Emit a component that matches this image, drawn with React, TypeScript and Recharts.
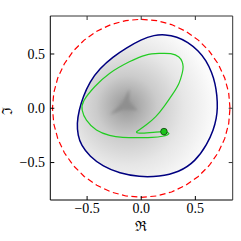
import React from "react";
import { ScatterChart, Scatter, XAxis, YAxis } from "recharts";

// closed boundary curve (navy)
const boundary = [
  { x: 0.705, y: 0.0 }, { x: 0.7, y: 0.12 }, { x: 0.683, y: 0.229 }, { x: 0.652, y: 0.33 },
  { x: 0.6, y: 0.44 }, { x: 0.53, y: 0.53 }, { x: 0.43, y: 0.61 }, { x: 0.33, y: 0.66 },
  { x: 0.22, y: 0.68 }, { x: 0.12, y: 0.675 }, { x: 0.0, y: 0.635 }, { x: -0.14, y: 0.555 },
  { x: -0.262, y: 0.474 }, { x: -0.384, y: 0.367 }, { x: -0.476, y: 0.244 }, { x: -0.537, y: 0.106 },
  { x: -0.574, y: -0.016 }, { x: -0.595, y: -0.14 }, { x: -0.585, y: -0.25 }, { x: -0.555, y: -0.34 },
  { x: -0.476, y: -0.444 }, { x: -0.354, y: -0.536 }, { x: -0.201, y: -0.6 }, { x: -0.018, y: -0.633 },
  { x: 0.165, y: -0.63 }, { x: 0.348, y: -0.59 }, { x: 0.5, y: -0.49 }, { x: 0.61, y: -0.33 },
  { x: 0.668, y: -0.199 }, { x: 0.695, y: -0.09 },
];

// darker three-cusped core of the density
const core = [
  { x: -0.11, y: 0.18 }, { x: -0.175, y: 0.05 }, { x: -0.29, y: -0.06 },
  { x: -0.155, y: -0.01 }, { x: -0.03, y: -0.02 }, { x: -0.11, y: 0.06 },
];

// dashed circle, radius 0.82
const circle = [
  { x: 0.82, y: 0 }, { x: 0.808, y: 0.142 }, { x: 0.771, y: 0.28 }, { x: 0.71, y: 0.41 },
  { x: 0.628, y: 0.527 }, { x: 0.527, y: 0.628 }, { x: 0.41, y: 0.71 }, { x: 0.28, y: 0.771 },
  { x: 0.142, y: 0.808 }, { x: 0, y: 0.82 }, { x: -0.142, y: 0.808 }, { x: -0.28, y: 0.771 },
  { x: -0.41, y: 0.71 }, { x: -0.527, y: 0.628 }, { x: -0.628, y: 0.527 }, { x: -0.71, y: 0.41 },
  { x: -0.771, y: 0.28 }, { x: -0.808, y: 0.142 }, { x: -0.82, y: 0 }, { x: -0.808, y: -0.142 },
  { x: -0.771, y: -0.28 }, { x: -0.71, y: -0.41 }, { x: -0.628, y: -0.527 }, { x: -0.527, y: -0.628 },
  { x: -0.41, y: -0.71 }, { x: -0.28, y: -0.771 }, { x: -0.142, y: -0.808 }, { x: 0, y: -0.82 },
  { x: 0.142, y: -0.808 }, { x: 0.28, y: -0.771 }, { x: 0.41, y: -0.71 }, { x: 0.527, y: -0.628 },
  { x: 0.628, y: -0.527 }, { x: 0.71, y: -0.41 }, { x: 0.771, y: -0.28 }, { x: 0.808, y: -0.142 },
  { x: 0.82, y: 0 },
];

// green trajectory
const orbit = [
  { x: 0.21, y: -0.215 }, { x: 0.256, y: -0.234 }, { x: 0.195, y: -0.258 }, { x: 0.1, y: -0.268 },
  { x: 0.012, y: -0.27 }, { x: -0.171, y: -0.268 }, { x: -0.293, y: -0.25 }, { x: -0.414, y: -0.2 },
  { x: -0.506, y: -0.11 }, { x: -0.545, y: -0.02 }, { x: -0.53, y: 0.07 }, { x: -0.43, y: 0.198 },
  { x: -0.293, y: 0.321 }, { x: -0.11, y: 0.428 }, { x: 0.043, y: 0.49 }, { x: 0.165, y: 0.505 },
  { x: 0.272, y: 0.503 }, { x: 0.348, y: 0.473 }, { x: 0.378, y: 0.428 }, { x: 0.387, y: 0.382 },
  { x: 0.378, y: 0.321 }, { x: 0.348, y: 0.229 }, { x: 0.29, y: 0.13 }, { x: 0.21, y: 0.015 },
  { x: 0.134, y: -0.077 }, { x: 0.05, y: -0.15 }, { x: -0.02, y: -0.2 }, { x: -0.043, y: -0.222 },
  { x: 0.012, y: -0.229 }, { x: 0.134, y: -0.22 }, { x: 0.21, y: -0.215 },
];

const start = [{ x: 0.21, y: -0.215 }];

const ticks = [-0.5, 0, 0.5];
const xDomain = [-0.84, 0.845];
const yDomain = [-0.845, 0.85];

const fmt = (v: number) => (v < 0 ? "\u2212" : "") + Math.abs(v).toFixed(1);
const font = "'Liberation Serif', 'DejaVu Serif', serif";

const BottomTick = (p: any) => (
  <g>
    <line x1={p.x} y1={p.y - 3} x2={p.x} y2={p.y - 7} stroke="#000" />
    <text x={p.x} y={p.y + 10} textAnchor="middle" fontSize={14} fontFamily={font} fill="#000">
      {fmt(p.payload.value)}
    </text>
  </g>
);

const LeftTick = (p: any) => (
  <g>
    <line x1={p.x + 5.3} y1={p.y} x2={p.x + 9.3} y2={p.y} stroke="#000" />
    <text x={p.x} y={p.y + 4.6} textAnchor="end" fontSize={14} fontFamily={font} fill="#000">
      {fmt(p.payload.value)}
    </text>
  </g>
);

const TopTick = (p: any) => <line x1={p.x} y1={p.y} x2={p.x} y2={p.y + 4} stroke="#333" />;
const RightTick = (p: any) => <line x1={p.x - 4} y1={p.y} x2={p.x} y2={p.y} stroke="#333" />;

const XLabel = (p: any) => {
  const vb = p.viewBox;
  return (
    <text x={vb.x + vb.width / 2 - 0.5} y={vb.y + 31} textAnchor="middle" fontSize={14} fontFamily="'DejaVu Serif', serif" fill="#000">
      {"\u211C"}
    </text>
  );
};

const YLabel = (p: any) => {
  const vb = p.viewBox;
  const cx = 7;
  const cy = vb.y + vb.height / 2 + 3;
  return (
    <text x={cx} y={cy} transform={`rotate(-90 ${cx} ${cy})`} textAnchor="middle" dominantBaseline="central" fontSize={14} fontFamily="'DejaVu Serif', serif" fill="#000">
      {"\u2111"}
    </text>
  );
};

const none = () => <g />;

export default function App() {
  return (
    <div style={{ position: "absolute", left: 0, top: 0, background: "#fff" }}>
      <ScatterChart width={241} height={241} margin={{ top: 0, right: 0, bottom: 0, left: 0 }}>
        <defs>
          <radialGradient id="dens" cx="0.36" cy="0.52" r="0.62" fx="0.35" fy="0.5">
            <stop offset="0%" stopColor="#949494" />
            <stop offset="12%" stopColor="#a8a8a8" />
            <stop offset="35%" stopColor="#cbcbcb" />
            <stop offset="65%" stopColor="#e6e6e6" />
            <stop offset="100%" stopColor="#fbfbfb" />
          </radialGradient>
          <filter id="soft" x="-50%" y="-50%" width="200%" height="200%">
            <feGaussianBlur stdDeviation="1.8" />
          </filter>
        </defs>
        <XAxis
          xAxisId={0}
          type="number"
          dataKey="x"
          domain={xDomain}
          ticks={ticks}
          allowDataOverflow
          height={41}
          tickSize={0}
          tickMargin={3}
          stroke="#000"
          tick={<BottomTick />}
          label={<XLabel />}
        />
        <XAxis
          xAxisId="top"
          orientation="top"
          type="number"
          dataKey="x"
          domain={xDomain}
          ticks={ticks}
          allowDataOverflow
          height={16}
          tickSize={0}
          tickMargin={0}
          stroke="#333"
          tick={<TopTick />}
        />
        <YAxis
          yAxisId={0}
          type="number"
          dataKey="y"
          domain={yDomain}
          ticks={ticks}
          allowDataOverflow
          width={50.3}
          tickSize={0}
          tickMargin={5.3}
          stroke="#000"
          tick={<LeftTick />}
          label={<YLabel />}
        />
        <YAxis
          yAxisId="right"
          orientation="right"
          type="number"
          dataKey="y"
          domain={yDomain}
          ticks={ticks}
          allowDataOverflow
          width={8.3}
          tickSize={0}
          tickMargin={0}
          stroke="#333"
          tick={<RightTick />}
        />
        <Scatter
          data={boundary}
          fill="#000080"
          shape={none}
          line={{ fill: "url(#dens)", stroke: "#000080", strokeWidth: 1.5 }}
          lineJointType="basisClosed"
          isAnimationActive={false}
        />
        <Scatter
          data={core}
          fill="#8f8f8f"
          shape={none}
          line={{ fill: "#8f8f8f", stroke: "none", filter: "url(#soft)" }}
          lineJointType="linearClosed"
          isAnimationActive={false}
        />
        <Scatter
          data={circle}
          fill="#ff0000"
          shape={none}
          line={{ stroke: "#ff0000", strokeWidth: 1.2, strokeDasharray: "6 3.5" }}
          isAnimationActive={false}
        />
        <Scatter
          data={orbit}
          fill="#22cc22"
          shape={none}
          line={{ stroke: "#22cc22", strokeWidth: 1.2 }}
          lineJointType="natural"
          isAnimationActive={false}
        />
        <Scatter
          data={start}
          fill="#1bc41b"
          shape={(p: any) => <circle cx={p.cx} cy={p.cy} r={3.3} fill="#1bc41b" stroke="#0b3b0b" strokeWidth={0.8} />}
          isAnimationActive={false}
        />
      </ScatterChart>
    </div>
  );
}
